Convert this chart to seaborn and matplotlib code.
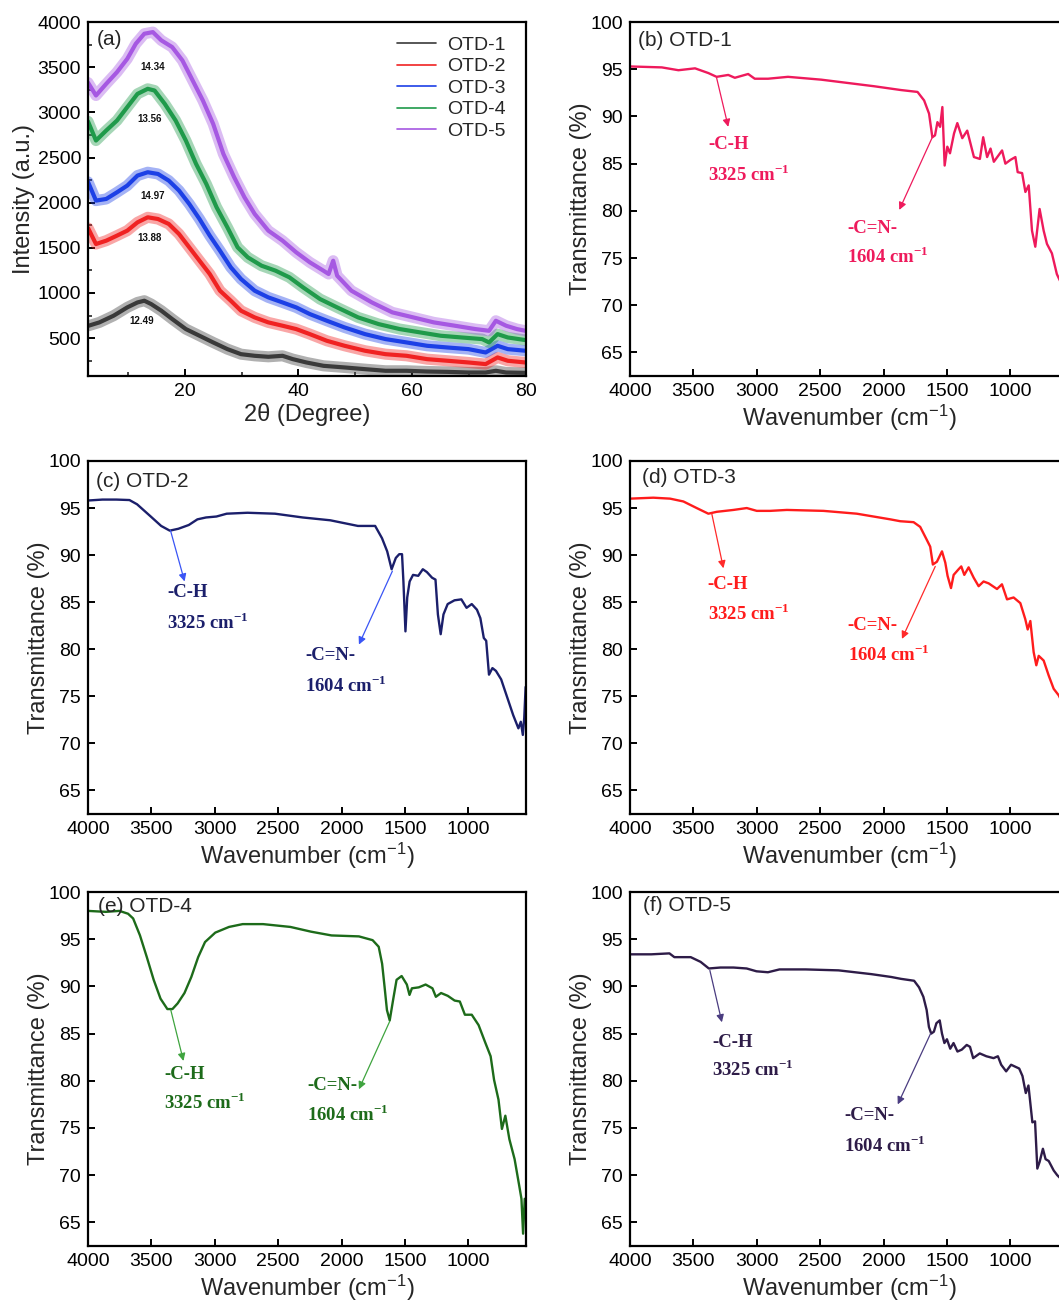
import matplotlib
matplotlib.use("Agg")
import matplotlib.pyplot as plt
import seaborn as sns
import pandas as pd
from matplotlib.lines import Line2D
from matplotlib.ticker import MultipleLocator

# ---------------- XRD data (panel a) ----------------
xrd_labels = ["OTD-1", "OTD-2", "OTD-3", "OTD-4", "OTD-5"]
xrd_colors = ["#3a3a3a", "#f02222", "#1c40e6", "#1f9a4a", "#a658e2"]

xrd_x1 = [3.1, 5.0, 7.5, 9.9, 11.7, 12.9, 14.1, 15.9, 17.8, 20.2, 22.6, 25.0, 27.5, 29.9, 32.3,
          34.7, 37.2, 39.0, 41.4, 44.4, 48.1, 51.7, 55.3, 59.0, 62.6, 66.2, 69.9, 72.9, 74.7, 76.5, 79.9]
xrd_y1 = [637, 674, 748, 840, 895, 914, 877, 803, 711, 600, 526, 452, 378, 322, 304,
          293, 304, 267, 230, 193, 175, 156, 138, 138, 130, 126, 119, 119, 138, 119, 115]

xrd_x2 = [3.0, 4.4, 6.2, 8.1, 9.9, 11.7, 13.5, 15.3, 17.2, 19.0, 20.8, 22.6, 24.4, 26.2, 28.1, 29.9,
          32.3, 34.7, 37.2, 39.6, 42.0, 45.0, 48.1, 51.7, 55.3, 59.0, 62.6, 66.2, 69.9, 72.9, 75.0, 76.8, 79.9]
xrd_y2 = [1720, 1542, 1579, 1635, 1690, 1782, 1838, 1819, 1764, 1653, 1505, 1357, 1210, 1025, 914, 803,
          729, 674, 637, 600, 544, 470, 415, 360, 322, 304, 267, 249, 230, 212, 286, 249, 230]

xrd_x3 = [3.0, 4.4, 6.2, 8.1, 9.9, 11.7, 13.5, 15.3, 17.2, 19.0, 20.8, 22.6, 24.4, 26.2, 28.1, 29.9,
          32.3, 34.7, 37.2, 39.6, 42.0, 45.0, 48.1, 51.7, 55.3, 59.0, 62.6, 66.2, 69.9, 72.9, 75.0, 76.8, 79.9]
xrd_y3 = [2230, 2023, 2041, 2115, 2189, 2300, 2337, 2318, 2244, 2134, 1986, 1819, 1635, 1468, 1284, 1154,
          1025, 951, 895, 840, 766, 692, 618, 544, 489, 452, 415, 396, 378, 341, 415, 378, 360]

xrd_x4 = [3.0, 4.4, 6.2, 8.1, 9.9, 11.7, 13.5, 14.7, 16.5, 18.4, 20.2, 22.0, 23.8, 25.6, 27.5, 29.3,
          31.1, 33.5, 36.0, 38.4, 40.8, 43.8, 46.8, 50.5, 54.1, 57.8, 61.4, 65.0, 68.7, 72.3, 73.5, 75.0, 76.8, 79.9]
xrd_y4 = [2900, 2688, 2799, 2910, 3058, 3205, 3261, 3242, 3094, 2910, 2688, 2429, 2207, 1949, 1727, 1505,
          1394, 1302, 1246, 1173, 1062, 932, 840, 729, 655, 600, 563, 526, 507, 489, 452, 544, 507, 478]

xrd_x5 = [3.0, 4.4, 6.2, 8.1, 9.9, 11.4, 12.9, 14.4, 15.9, 17.8, 19.6, 21.4, 23.2, 25.0, 26.8, 28.7,
          30.5, 32.3, 34.7, 37.2, 39.6, 42.0, 44.4, 45.3, 46.1, 46.8, 49.3, 52.9, 56.5, 60.2, 63.8, 67.5,
          71.1, 73.5, 74.7, 76.5, 78.4, 79.9]
xrd_y5 = [3330, 3187, 3316, 3446, 3593, 3760, 3871, 3889, 3797, 3723, 3575, 3353, 3131, 2873, 2540, 2281,
          2060, 1875, 1690, 1579, 1450, 1339, 1246, 1210, 1357, 1191, 1025, 895, 785, 729, 674, 637,
          600, 581, 692, 637, 600, 581]

peak_text = ["12.49", "13.88", "14.97", "13.56", "14.34"]
peak_text_x = [12.4, 13.8, 14.4, 13.8, 14.4]
peak_text_y = [692, 1605, 2071, 2928, 3508]

# ---------------- FTIR data (panels b-f) ----------------
wn_b = [4000, 3749, 3618, 3487, 3382, 3317, 3225, 3173, 3068, 3016, 2911, 2754, 2492, 2073, 1863, 1732,
        1680, 1641, 1615, 1594, 1575, 1554, 1536, 1518, 1497, 1476, 1444, 1418, 1379, 1340, 1287, 1240,
        1214, 1183, 1156, 1130, 1065, 1039, 999, 960, 942, 907, 881, 855, 829, 803, 769, 737, 711, 672,
        633, 605]
tr_b = [95.3, 95.2, 94.9, 95.1, 94.6, 94.2, 94.4, 94.1, 94.5, 94.0, 94.0, 94.2, 93.9, 93.2, 92.8, 92.6,
        91.7, 90.3, 87.8, 88.0, 89.4, 88.9, 91.0, 84.8, 86.8, 86.1, 88.2, 89.3, 87.7, 88.5, 85.7, 85.5,
        87.8, 85.7, 86.6, 85.2, 86.4, 85.0, 85.4, 85.7, 84.1, 84.0, 82.0, 82.7, 77.9, 76.2, 80.2, 77.9,
        76.5, 75.5, 73.3, 72.5]

wn_c = [4000, 3886, 3777, 3673, 3613, 3505, 3423, 3355, 3287, 3205, 3137, 3069, 2987, 2906, 2742, 2525,
        2307, 2089, 1871, 1735, 1681, 1640, 1605, 1572, 1545, 1523, 1512, 1496, 1482, 1463, 1436, 1395,
        1359, 1327, 1286, 1259, 1240, 1218, 1196, 1163, 1109, 1055, 1014, 973, 932, 905, 878, 859, 837,
        810, 782, 741, 701, 646, 605, 586, 570, 559, 548]
tr_c = [95.8, 95.9, 95.9, 95.85, 95.4, 94.1, 93.1, 92.6, 92.8, 93.2, 93.8, 94.0, 94.1, 94.4, 94.5, 94.4,
        94.0, 93.7, 93.1, 93.1, 91.8, 90.4, 88.5, 89.7, 90.1, 90.1, 87.2, 81.9, 85.5, 87.2, 87.9, 87.8,
        88.5, 88.2, 87.6, 87.4, 83.7, 81.6, 83.7, 84.8, 85.2, 85.3, 84.4, 84.8, 84.2, 83.3, 81.2, 80.9,
        77.3, 78.0, 77.7, 76.8, 75.2, 73.0, 71.6, 72.3, 70.9, 72.7, 76.0]

wn_d = [4000, 3816, 3684, 3579, 3474, 3382, 3316, 3184, 3079, 3000, 2895, 2763, 2474, 2211, 1947, 1868,
        1763, 1711, 1658, 1632, 1611, 1579, 1539, 1513, 1495, 1468, 1447, 1408, 1387, 1363, 1329, 1289,
        1250, 1211, 1171, 1105, 1066, 1026, 974, 921, 882, 863, 842, 816, 795, 776, 737, 697, 658, 618, 600]
tr_d = [96.0, 96.1, 96.0, 95.7, 95.0, 94.4, 94.6, 94.8, 95.0, 94.7, 94.7, 94.8, 94.7, 94.4, 93.8, 93.6,
        93.5, 93.0, 91.6, 90.9, 89.0, 89.3, 90.4, 89.2, 87.8, 86.5, 87.9, 88.5, 88.8, 87.9, 88.7, 87.6,
        86.7, 87.2, 87.0, 86.4, 86.9, 85.3, 85.5, 84.9, 83.2, 82.1, 83.0, 79.7, 78.3, 79.3, 78.8, 77.2,
        75.8, 75.1, 74.6]

wn_e = [4000, 3860, 3752, 3684, 3644, 3590, 3536, 3482, 3428, 3374, 3334, 3293, 3239, 3185, 3131, 3077,
        2996, 2888, 2780, 2619, 2403, 2241, 2079, 1863, 1755, 1707, 1680, 1661, 1642, 1620, 1593, 1566,
        1526, 1485, 1464, 1445, 1391, 1337, 1283, 1256, 1215, 1162, 1108, 1067, 1027, 973, 919, 865, 824,
        797, 762, 735, 708, 676, 635, 600, 581, 568, 555, 541]
tr_e = [98.0, 97.9, 98.0, 97.7, 97.2, 95.4, 93.1, 90.7, 88.7, 87.6, 87.6, 88.2, 89.3, 91.0, 93.1, 94.7,
        95.7, 96.3, 96.6, 96.6, 96.3, 95.8, 95.4, 95.3, 94.9, 94.2, 92.4, 90.0, 87.5, 86.4, 88.6, 90.7,
        91.1, 90.2, 89.1, 89.8, 89.9, 90.2, 89.8, 88.9, 89.3, 89.0, 88.5, 88.4, 87.0, 87.0, 85.9, 84.0,
        82.6, 80.1, 78.0, 74.9, 76.3, 73.8, 71.7, 69.0, 67.5, 63.8, 67.5, 65.0]

wn_f = [4000, 3832, 3689, 3650, 3521, 3443, 3378, 3287, 3184, 3080, 3002, 2912, 2821, 2614, 2355, 2096,
        1940, 1862, 1759, 1720, 1686, 1660, 1642, 1624, 1603, 1583, 1557, 1539, 1520, 1500, 1474, 1448,
        1417, 1383, 1344, 1318, 1293, 1241, 1189, 1132, 1098, 1072, 1033, 994, 930, 904, 878, 857, 826,
        805, 787, 769, 743, 722, 697, 658, 630, 600]
tr_f = [93.4, 93.4, 93.5, 93.1, 93.1, 92.6, 91.9, 92.0, 92.0, 91.9, 91.6, 91.5, 91.8, 91.8, 91.7, 91.3,
        91.0, 90.8, 90.6, 89.9, 88.9, 87.5, 85.7, 85.0, 85.2, 86.1, 86.4, 85.0, 84.0, 84.4, 83.4, 84.0,
        83.1, 83.3, 83.8, 83.6, 82.4, 82.9, 82.6, 82.4, 82.6, 81.7, 81.0, 81.7, 81.3, 80.5, 78.7, 79.5,
        75.6, 75.7, 70.7, 71.4, 72.8, 71.7, 71.5, 70.5, 70.0, 69.6]

ftir_titles = ["(b) OTD-1", "(c) OTD-2", "(d) OTD-3", "(e) OTD-4", "(f) OTD-5"]
ftir_colors = ["#ee1a5c", "#1b1f6b", "#ff1c1c", "#1d6b1a", "#2e1c48"]
arrow_colors = ["#ee1a5c", "#3a55f5", "#ff2a2a", "#3fa43f", "#4a3c80"]
band_names = ["-C-H", "-C=N-"]
band_values = ["3325", "1604"]

# arrow (start -> end) and label anchor for each band, per panel
ch_arrow = [((3317, 94.1), (3225, 88.9)), ((3349, 92.6), (3238, 87.2)), ((3355, 94.4), (3263, 88.6)),
            ((3347, 87.5), (3247, 82.1)), ((3370, 91.7), (3275, 86.2))]
cn_arrow = [((1615, 87.8), (1876, 80.1)), ((1599, 88.3), (1863, 80.5)), ((1592, 88.8), (1855, 81.1)),
            ((1620, 86.3), (1863, 79.1)), ((1629, 85.0), (1888, 77.5))]
ch_text = [(3382, 87.0, 83.8), (3377, 86.0, 82.8), (3387, 86.9, 83.7), (3401, 80.7, 77.7), (3352, 84.1, 81.2)]
cn_text = [(2288, 78.1, 75.1), (2285, 79.3, 76.1), (2284, 82.5, 79.4), (2273, 79.5, 76.4), (2308, 76.3, 73.1)]

# ---------------- styling ----------------
sns.set_theme(style="ticks")
plt.rcParams["font.family"] = ["Liberation Sans", "DejaVu Sans"]
plt.rcParams["mathtext.fontset"] = "custom"
plt.rcParams["mathtext.rm"] = "Liberation Sans"
plt.rcParams["mathtext.bf"] = "Liberation Serif:bold"
plt.rcParams["mathtext.default"] = "rm"
plt.rcParams["axes.linewidth"] = 1.6
plt.rcParams["axes.edgecolor"] = "black"

TICK = 14
LABEL = 17
TITLE = 15
NOTE = 13.5

fig = plt.figure(figsize=(10.59, 13.07), dpi=100)
col_x = [0.0831, 0.5949]
col_w = 0.4136
rows = [(0.7123, 0.2708), (0.3772, 0.2701), (0.0467, 0.2708)]


def style_axes(ax):
    for s in ax.spines.values():
        s.set_linewidth(1.6)
        s.set_color("black")
    ax.tick_params(direction="in", which="major", length=5, width=1.4, labelsize=TICK,
                   colors="black", top=False, right=False, pad=5)
    ax.tick_params(direction="in", which="minor", length=3, width=1.2, top=False, right=False)


# ---- panel (a) XRD ----
ax = fig.add_axes([col_x[0], rows[0][0], col_w, rows[0][1]])
series = [(xrd_x1, xrd_y1), (xrd_x2, xrd_y2), (xrd_x3, xrd_y3), (xrd_x4, xrd_y4), (xrd_x5, xrd_y5)]
for (xs, ys), name, col in zip(series, xrd_labels, xrd_colors):
    df = pd.DataFrame({"two_theta": xs, "intensity": ys})
    # wide translucent band for the noisy trace, then the central line
    sns.lineplot(data=df, x="two_theta", y="intensity", ax=ax, color=col, lw=8, alpha=0.4,
                 estimator=None, legend=False)
    sns.lineplot(data=df, x="two_theta", y="intensity", ax=ax, color=col, lw=3,
                 estimator=None, legend=False)
for t, x, y in zip(peak_text, peak_text_x, peak_text_y):
    ax.text(x, y, t, fontsize=7, fontweight="bold", ha="center", va="center", color="#111111")
ax.set_xlim(3, 80)
ax.set_ylim(80, 4000)
ax.xaxis.set_major_locator(MultipleLocator(20))
ax.xaxis.set_minor_locator(MultipleLocator(10))
ax.yaxis.set_major_locator(MultipleLocator(500))
ax.yaxis.set_minor_locator(MultipleLocator(250))
ax.set_yticks([500, 1000, 1500, 2000, 2500, 3000, 3500, 4000])
ax.set_xlabel("2θ (Degree)", fontsize=LABEL, labelpad=2)
ax.set_ylabel("Intensity (a.u.)", fontsize=LABEL, labelpad=2)
style_axes(ax)
ax.text(0.02, 0.95, "(a)", transform=ax.transAxes, fontsize=TITLE, va="center", ha="left")
handles = [Line2D([], [], color=c, lw=1.2) for c in xrd_colors]
ax.legend(handles, xrd_labels, loc="upper left", bbox_to_anchor=(0.705, 0.96), frameon=False,
          fontsize=TICK, handlelength=2.0, handletextpad=0.6, labelspacing=0.2, borderpad=0,
          borderaxespad=0)

# ---- panels (b)-(f) FTIR ----
positions = [(1, 0), (0, 1), (1, 1), (0, 2), (1, 2)]
ftir = [(wn_b, tr_b), (wn_c, tr_c), (wn_d, tr_d), (wn_e, tr_e), (wn_f, tr_f)]
title_x = [0.018, 0.018, 0.027, 0.022, 0.03]
title_y = [0.949, 0.943, 0.952, 0.96, 0.963]

for i, ((c, r), (wn, tr)) in enumerate(zip(positions, ftir)):
    ax = fig.add_axes([col_x[c], rows[r][0], col_w, rows[r][1]])
    df = pd.DataFrame({"wavenumber": wn, "transmittance": tr})
    sns.lineplot(data=df, x="wavenumber", y="transmittance", ax=ax, color=ftir_colors[i],
                 lw=1.7, estimator=None, sort=False, legend=False)
    ax.set_xlim(4000, 545)
    ax.set_ylim(62.5, 100)
    ax.set_xticks([4000, 3500, 3000, 2500, 2000, 1500, 1000])
    ax.set_yticks([65, 70, 75, 80, 85, 90, 95, 100])
    ax.set_xlabel("Wavenumber (cm$^{-1}$)", fontsize=LABEL, labelpad=2)
    ax.set_ylabel("Transmittance (%)", fontsize=LABEL, labelpad=-1)
    style_axes(ax)
    ax.text(title_x[i], title_y[i], ftir_titles[i], transform=ax.transAxes, fontsize=TITLE,
            va="center", ha="left")
    for arrow in (ch_arrow[i], cn_arrow[i]):
        ax.annotate("", xy=arrow[1], xytext=arrow[0],
                    arrowprops=dict(arrowstyle="-|>", color=arrow_colors[i], lw=0.9,
                                    mutation_scale=11, shrinkA=0, shrinkB=0))
    for (tx, y1, y2), name, val in zip((ch_text[i], cn_text[i]), band_names, band_values):
        ax.text(tx, y1, name, fontfamily="Liberation Serif", fontweight="bold", fontsize=NOTE,
                color=ftir_colors[i], ha="left", va="center")
        ax.text(tx, y2, val + r" cm$^{\mathbf{-1}}$", fontfamily="Liberation Serif",
                fontweight="bold", fontsize=NOTE, color=ftir_colors[i], ha="left", va="center")

fig.savefig("out.png", dpi=100)
